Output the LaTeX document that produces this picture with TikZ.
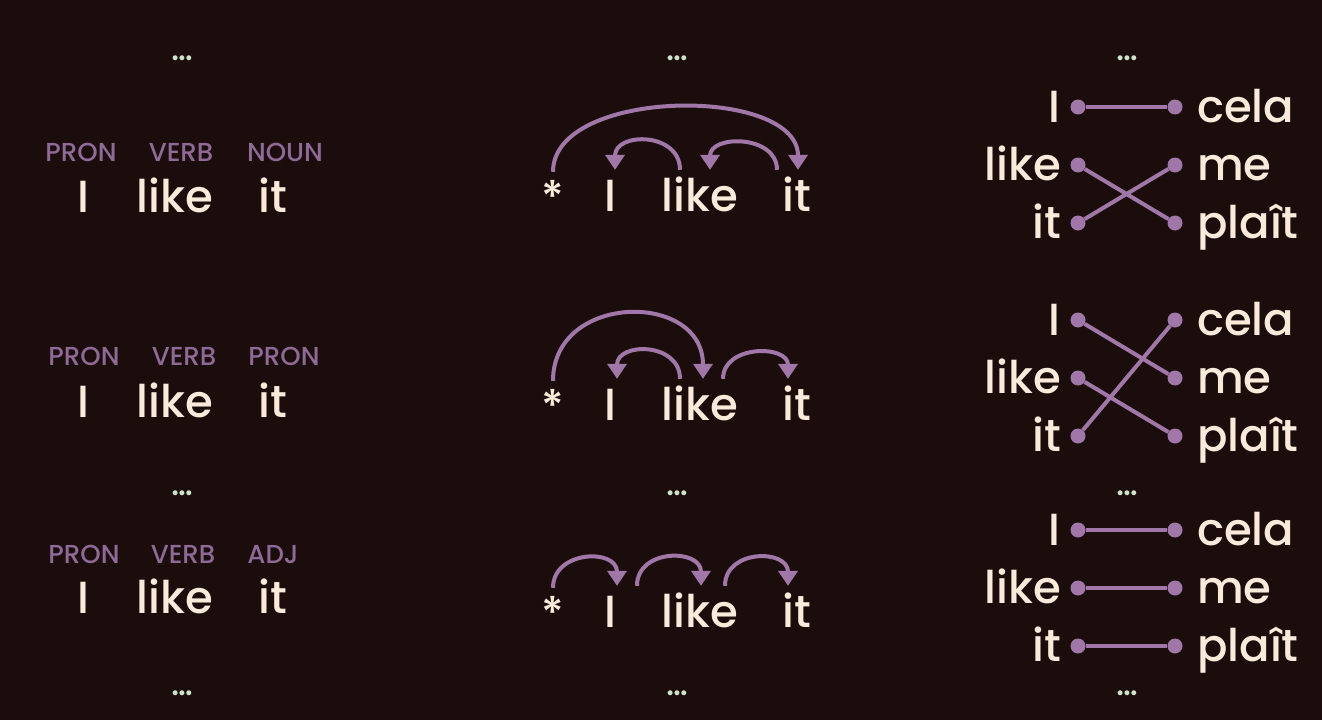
\documentclass[tikz,border=0pt]{standalone}
\usepackage{fontspec}
\setmainfont{Poppins}[UprightFont=* Medium]
\usetikzlibrary{arrows.meta, positioning}

\definecolor{bgdark}{HTML}{1B0D0C}
\definecolor{cream}{HTML}{F9EAD9}
\definecolor{tagpurple}{HTML}{8F6A98}
\definecolor{arcpurple}{HTML}{A077A8}
\definecolor{dotgreen}{HTML}{CFE3CC}

\tikzset{
  word/.style={text=cream, font=\fontsize{45}{45}\selectfont, inner sep=0pt, anchor=base},
  depword/.style={word, text height=36pt, text depth=0pt, inner ysep=5pt},
  tag/.style={text=tagpurple, font=\fontsize{26}{26}\selectfont, inner sep=0pt, anchor=base},
  more/.style={text=dotgreen, font=\fontsize{34}{34}\selectfont, inner sep=0pt},
  deparc/.style={draw=arcpurple, line width=4pt, -{Triangle[length=15pt,width=19pt]}, out=90, in=90},
  alignline/.style={draw=arcpurple, line width=4pt},
  aligndot/.style={circle, fill=arcpurple, inner sep=0pt, minimum size=15pt}
}

\begin{document}
\begin{tikzpicture}[x=1pt, y=-1pt]
    % Background and page size
    \fill[bgdark] (0,0) rectangle (1322,720);
    \useasboundingbox (0,0) rectangle (1322,720);

    % Ellipses between the rows
    \node[more] (moreTL) at (182,58) {…};
    \node[more] (moreTM) at (677,58) {…};
    \node[more] (moreTR) at (1127,58) {…};
    \node[more] (moreML) at (182,493) {…};
    \node[more] (moreMM) at (677,493) {…};
    \node[more] (moreMR) at (1127,493) {…};
    \node[more] (moreBL) at (182,693) {…};
    \node[more] (moreBM) at (677,693) {…};
    \node[more] (moreBR) at (1127,693) {…};

    % Tagged sentences
    \node[tag] (tagA1) at (81,161) {PRON};
    \node[tag] (tagA2) at (181,161) {VERB};
    \node[tag] (tagA3) at (285,161) {NOUN};
    \node[word] (wA1) at (83,212) {I};
    \node[word] (wA2) at (175,212) {like};
    \node[word] (wA3) at (273,212) {it};

    \node[tag] (tagB1) at (84,365) {PRON};
    \node[tag] (tagB2) at (184,365) {VERB};
    \node[tag] (tagB3) at (284,365) {PRON};
    \node[word] (wB1) at (83,417) {I};
    \node[word] (wB2) at (175,417) {like};
    \node[word] (wB3) at (273,417) {it};

    \node[tag] (tagC1) at (84,563) {PRON};
    \node[tag] (tagC2) at (183,563) {VERB};
    \node[tag] (tagC3) at (273,563) {ADJ};
    \node[word] (wC1) at (83,613) {I};
    \node[word] (wC2) at (175,613) {like};
    \node[word] (wC3) at (273,613) {it};

    % Dependency trees
    \node[depword] (rootA) at (553,213) {*};
    \node[depword] (iA) at (610,211) {I};
    \node[depword] (likeA) at (700,211) {like};
    \node[depword] (itA) at (797,211) {it};
    \draw[deparc, looseness=0.88] (rootA.north) to ([xshift=1pt]itA.north);
    \draw[deparc, looseness=1.5] ([xshift=-20pt]likeA.north) to ([xshift=5pt]iA.north);
    \draw[deparc, looseness=1.35] ([xshift=-20pt]itA.north) to ([xshift=10pt]likeA.north);

    \node[depword] (rootB) at (553,422) {*};
    \node[depword] (iB) at (610,420) {I};
    \node[depword] (likeB) at (700,420) {like};
    \node[depword] (itB) at (797,420) {it};
    \draw[deparc, looseness=1.5] (rootB.north) to ([xshift=3pt]likeB.north);
    \draw[deparc, looseness=1.5] ([xshift=-20pt]likeB.north) to ([xshift=7pt]iB.north);
    \draw[deparc, looseness=1.35] ([xshift=23pt]likeB.north) to ([xshift=-9pt]itB.north);

    \node[depword] (rootC) at (553,629) {*};
    \node[depword] (iC) at (610,627) {I};
    \node[depword] (likeC) at (700,627) {like};
    \node[depword] (itC) at (797,627) {it};
    \draw[deparc, looseness=1.5] (rootC.north) to ([xshift=7pt]iC.north);
    \draw[deparc, looseness=1.5] ([xshift=27pt]iC.north) to ([xshift=1pt]likeC.north);
    \draw[deparc, looseness=1.5] ([xshift=25pt]likeC.north) to ([xshift=-9pt]itC.north);

    % Word alignments
    \foreach \r/\y in {1/107, 2/320, 3/530} {
        \node[word, anchor=base east] (srcI\r) at (1061,\y+15) {I};
        \node[word, anchor=base east] (srcLike\r) at (1061,\y+73) {like};
        \node[word, anchor=base east] (srcIt\r) at (1061,\y+131) {it};
        \node[word, anchor=base west] (tgtCela\r) at (1197,\y+15) {cela};
        \node[word, anchor=base west] (tgtMe\r) at (1197,\y+73) {me};
        \node[word, anchor=base west] (tgtPlait\r) at (1197,\y+131) {plaît};
        \node[aligndot] (dI\r) at (1078,\y) {};
        \node[aligndot] (dLike\r) at (1078,\y+58) {};
        \node[aligndot] (dIt\r) at (1078,\y+116) {};
        \node[aligndot] (dCela\r) at (1175,\y) {};
        \node[aligndot] (dMe\r) at (1175,\y+58) {};
        \node[aligndot] (dPlait\r) at (1175,\y+116) {};
    }
    \draw[alignline] (dI1) -- (dCela1);
    \draw[alignline] (dLike1) -- (dPlait1);
    \draw[alignline] (dIt1) -- (dMe1);

    \draw[alignline] (dI2) -- (dMe2);
    \draw[alignline] (dLike2) -- (dPlait2);
    \draw[alignline] (dIt2) -- (dCela2);

    \draw[alignline] (dI3) -- (dCela3);
    \draw[alignline] (dLike3) -- (dMe3);
    \draw[alignline] (dIt3) -- (dPlait3);
\end{tikzpicture}
\end{document}
